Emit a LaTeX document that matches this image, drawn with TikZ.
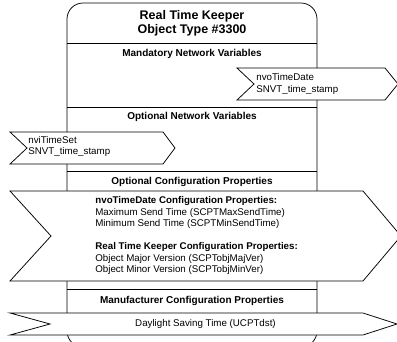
\documentclass[tikz,border=0pt]{standalone}
\usepackage{fontspec}
\setmainfont{Liberation Sans}
\begin{document}
\begin{tikzpicture}[x=1pt,y=-1pt,line width=0.75pt,
  arrowshape/.style={draw=black,fill=white,line join=miter},
  sep/.style={draw=black},
  titletxt/.style={font=\fontsize{12.5}{14}\selectfont\bfseries,align=center,inner sep=0pt},
  headtxt/.style={font=\fontsize{10}{12}\selectfont\bfseries,inner sep=0pt},
  bodytxt/.style={font=\fontsize{9.75}{11.5}\selectfont,align=left,inner sep=0pt}]
\clip (0,0) rectangle (397,341);
% main object box
\draw[rounded corners=16] (67,347) -- (67,3) -- (317,3) -- (317,347) -- cycle;
% section separators
\draw[sep] (67,43) -- (317,43);
\draw[sep] (67,107) -- (317,107);
\draw[sep] (67,171) -- (317,171);
\draw[sep] (67,289) -- (317,289);
% titles
\node[titletxt] (title) at (192,23) {Real Time Keeper\\Object Type \#3300};
\node[headtxt] (mnv) at (192,54) {Mandatory Network Variables};
\node[headtxt] (onv) at (192,117) {Optional Network Variables};
\node[headtxt] (ocp) at (192,182) {Optional Configuration Properties};
\node[headtxt] (mcp) at (192,301) {Manufacturer Configuration Properties};
% nvoTimeDate
\draw[arrowshape] (237,68) -- (385,68) -- (398,84) -- (385,100) -- (237,100) -- (254,84) -- cycle;
\node[bodytxt,anchor=west] (nvo) at (256,84) {nvoTimeDate\\SNVT\_time\_stamp};
% nviTimeSet
\draw[arrowshape] (10,132) -- (163,132) -- (175,148) -- (163,164) -- (10,164) -- (27,148) -- cycle;
\node[bodytxt,anchor=west] (nvi) at (28,146.5) {nviTimeSet\\SNVT\_time\_stamp};
% configuration properties
\draw[arrowshape] (10,191) -- (363,191) -- (401,236) -- (363,281) -- (10,281) -- (51,236) -- cycle;
\node[bodytxt,anchor=west] (cps) at (95,235.5) {\textbf{nvoTimeDate Configuration Properties:}\\
Maximum Send Time (SCPTMaxSendTime)\\
Minimum Send Time (SCPTMinSendTime)\\[11.5pt]
\textbf{Real Time Keeper Configuration Properties:}\\
Object Major Version (SCPTobjMajVer)\\
Object Minor Version (SCPTobjMinVer)};
% manufacturer property
\draw[arrowshape] (10,313) -- (363,313) -- (397,324) -- (363,335) -- (10,335) -- (50,324) -- cycle;
\node[bodytxt] (dst) at (205.5,324) {Daylight Saving Time (UCPTdst)};
\end{tikzpicture}
\end{document}
